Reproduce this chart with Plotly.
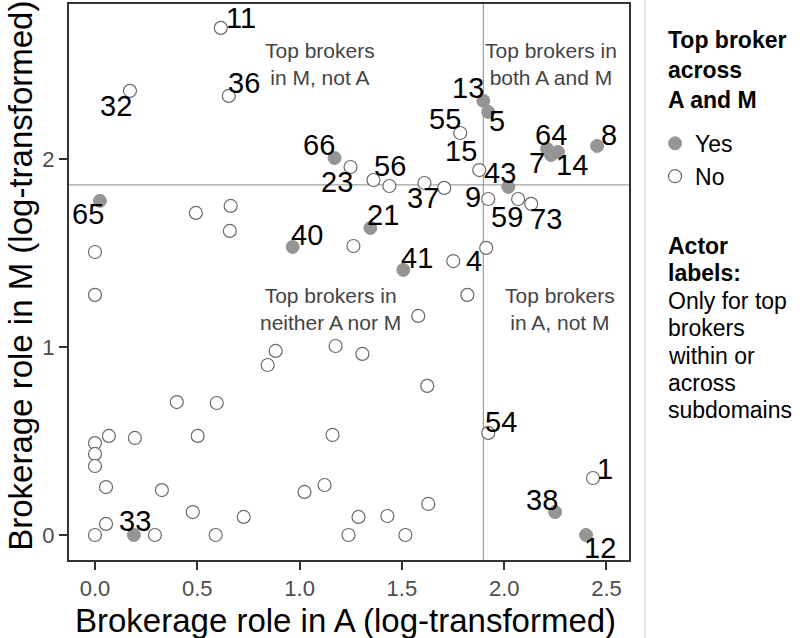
import plotly.graph_objects as go

# labelled actors (top brokers within or across subdomains)
lab_ids = ["66", "65", "40", "21", "41", "13", "5", "43", "64", "7", "14", "8", "38", "12", "33",
           "11", "32", "36", "23", "56", "37", "55", "15", "9", "59", "73", "4", "54", "1"]
lab_a = [1.171, 0.024, 0.966, 1.346, 1.507, 1.898, 1.922, 2.020, 2.210, 2.229, 2.263, 2.454, 2.249, 2.400, 0.190,
         0.615, 0.171, 0.654, 1.249, 1.439, 1.610, 1.785, 1.878, 1.922, 2.068, 2.132, 1.912, 1.922, 2.434]
lab_m = [2.005, 1.777, 1.532, 1.633, 1.410, 2.309, 2.250, 1.851, 2.053, 2.021, 2.037, 2.069, 0.122, 0.0, 0.0,
         2.697, 2.362, 2.335, 1.957, 1.856, 1.872, 2.138, 1.941, 1.787, 1.787, 1.761, 1.527, 0.543, 0.303]
lab_top = [True] * 15 + [False] * 14

# other actors (no label, not top brokers)
oth_a = [1.361, 1.707, 0.493, 0.663, 0.659, 0.0, 0.0, 1.263, 1.751, 1.820, 1.580, 0.883, 0.844, 1.176,
         1.307, 1.624, 0.400, 0.595, 0.0, 0.0, 0.0, 0.068, 0.195, 0.502, 1.161, 0.054, 0.327, 1.024,
         1.122, 0.478, 0.727, 0.054, 0.0, 0.293, 0.590, 1.239, 1.288, 1.429, 1.517, 1.629]
oth_m = [1.888, 1.846, 1.713, 1.750, 1.617, 1.505, 1.277, 1.537, 1.457, 1.277, 1.165, 0.979, 0.904, 1.005,
         0.963, 0.793, 0.707, 0.702, 0.489, 0.431, 0.367, 0.527, 0.516, 0.527, 0.532, 0.255, 0.239, 0.229,
         0.266, 0.122, 0.096, 0.059, 0.0, 0.0, 0.0, 0.0, 0.096, 0.101, 0.0, 0.165]

# thresholds for top brokers
cut_a = 1.898
cut_m = 1.862

legend_title = ["Top broker", "across", "A and M"]
note_lines = ["<b>Actor</b>", "<b>labels:</b>", "Only for top", "brokers", "within or", "across", "subdomains"]

# label offsets in pixels (dx, dy up)
offsets = {"66": (-16, 13), "65": (-12, -13), "40": (14, 12), "21": (13, 13), "41": (14, 12),
           "13": (-15, 13), "5": (9, -9), "43": (-8, 14), "64": (4, 14), "7": (-14, -8), "14": (14, -13),
           "8": (12, 11), "38": (-13, 12), "12": (14, -13), "33": (1, 14), "11": (20, 10), "32": (-14, -15),
           "36": (15, 13), "23": (-14, -15), "56": (1, 20), "37": (-1, -15), "55": (-15, 14), "15": (-18, 19),
           "9": (-15, 2), "59": (-11, -18), "73": (15, -15), "4": (-12, -13), "54": (13, 11), "1": (12, 9)}

yes_a = [a for a, t in zip(lab_a, lab_top) if t]
yes_m = [m for m, t in zip(lab_m, lab_top) if t]
no_a = [a for a, t in zip(lab_a, lab_top) if not t] + oth_a
no_m = [m for m, t in zip(lab_m, lab_top) if not t] + oth_m

FONT = "Arial, Liberation Sans, sans-serif"

fig = go.Figure()
fig.add_trace(go.Scatter(x=no_a, y=no_m, mode="markers", name="No", legendrank=2,
                         marker=dict(size=13, color="white", line=dict(color="#6b6b6b", width=1.2))))
fig.add_trace(go.Scatter(x=yes_a, y=yes_m, mode="markers", name="Yes", legendrank=1,
                         marker=dict(size=13, color="#959595", line=dict(color="#959595", width=1))))

fig.add_shape(type="line", x0=cut_a, x1=cut_a, y0=0, y1=1, yref="paper",
              line=dict(color="#8a8a8a", width=1), layer="below")
fig.add_shape(type="line", x0=0, x1=1, xref="paper", y0=cut_m, y1=cut_m,
              line=dict(color="#8a8a8a", width=1), layer="below")

for i, a, m in zip(lab_ids, lab_a, lab_m):
    dx, dy = offsets[i]
    fig.add_annotation(x=a, y=m, text=i, showarrow=False, xshift=dx, yshift=dy,
                       font=dict(size=29, color="black", family=FONT))

quad = [(1.102, 2.505, "Top brokers<br>in M, not A"),
        (2.229, 2.505, "Top brokers in<br>both A and M"),
        (1.151, 1.202, "Top brokers in<br>neither A nor M"),
        (2.273, 1.202, "Top brokers<br>in A, not M")]
for qx, qy, qt in quad:
    fig.add_annotation(x=qx, y=qy, text=qt, showarrow=False,
                       font=dict(size=21, color="#444444", family=FONT))

# axis titles
fig.add_annotation(x=0.494, y=-0.108, xref="paper", yref="paper", xanchor="center", yanchor="middle",
                   showarrow=False, text="Brokerage role in A (log-transformed)",
                   font=dict(size=33, color="black", family=FONT))
fig.add_annotation(x=-0.0859, y=0.511, xref="paper", yref="paper", xanchor="center", yanchor="middle",
                   showarrow=False, textangle=-90, text="Brokerage role in M (log-transformed)",
                   font=dict(size=33, color="black", family=FONT))

# legend title and note, one line at a time
for k, line in enumerate(legend_title):
    fig.add_annotation(x=1.066, y=1.0, xref="paper", yref="paper", xanchor="left", yanchor="middle",
                       yshift=-(36 + 30 * k), showarrow=False, text="<b>" + line + "</b>",
                       font=dict(size=23, color="black", family=FONT))
for k, line in enumerate(note_lines):
    fig.add_annotation(x=1.066, y=1.0, xref="paper", yref="paper", xanchor="left", yanchor="middle",
                       yshift=-(242 + 27.4 * k), showarrow=False, text=line,
                       font=dict(size=23, color="black", family=FONT))

fig.add_shape(type="line", xref="paper", yref="paper", x0=1.0286, x1=1.0286, y0=-0.2, y1=1.01,
              line=dict(color="#e3e3e3", width=2))

fig.update_layout(
    width=800, height=638,
    margin=dict(l=69, r=171, t=4, b=78),
    plot_bgcolor="white", paper_bgcolor="white",
    font=dict(family=FONT, color="black"),
    xaxis=dict(range=[-0.127, 2.61], tickvals=[0, 0.5, 1, 1.5, 2, 2.5], tickformat=".1f",
               showgrid=False, zeroline=False, showline=True, linecolor="#333333", linewidth=2,
               mirror=True, ticks="outside", ticklen=8, tickcolor="#333333", tickwidth=2,
               tickfont=dict(size=22, color="#4d4d4d"), automargin=False),
    yaxis=dict(range=[-0.133, 2.824], tickvals=[0, 1, 2],
               showgrid=False, zeroline=False, showline=True, linecolor="#333333", linewidth=2,
               mirror=True, ticks="outside", ticklen=8, tickcolor="#333333", tickwidth=2,
               tickfont=dict(size=22, color="#4d4d4d"), automargin=False),
    legend=dict(x=1.0465, y=0.788, xanchor="left", yanchor="top", bgcolor="rgba(0,0,0,0)",
                font=dict(size=23, color="black"), tracegroupgap=0),
    showlegend=True,
    modebar=dict(remove=["toImage", "zoom", "pan", "select", "lasso", "zoomIn", "zoomOut",
                         "autoScale", "resetScale"]),
)

fig.write_html("out.html", post_script="document.body.style.margin='0';",
               config={"displayModeBar": False})
